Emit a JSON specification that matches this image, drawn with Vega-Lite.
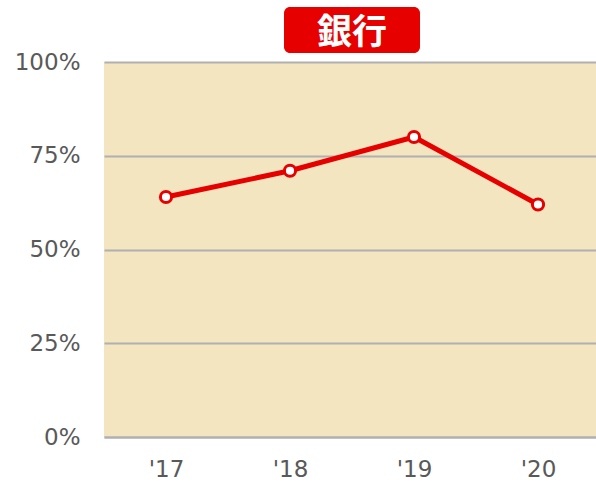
{
  "$schema": "https://vega.github.io/schema/vega-lite/v6.json",
  "width": 496,
  "height": 375,
  "autosize": "none",
  "padding": {"left": 104, "top": 62, "right": 0, "bottom": 46},
  "background": "white",
  "title": {"text": "銀行", "font": "Noto Sans CJK JP", "fontSize": 35, "fontWeight": "bold", "color": "white", "offset": 13, "dy": 57, "anchor": "middle", "zindex": 2},
  "config": {
    "view": {"fill": "#F3E5C0", "stroke": null},
    "axis": {"labelFont": "DejaVu Sans", "labelFontSize": 23, "labelColor": "#595959", "ticks": false, "title": null},
    "axisX": {"labelAngle": 0, "labelAlign": "center", "labelPadding": 21, "domainColor": "#B0B0B0", "domainWidth": 2, "grid": false},
    "axisY": {"labelPadding": 24, "domain": false, "grid": true, "gridColor": "#B0B0B0", "gridWidth": 2, "gridOpacity": 1}
  },
  "data": {"values": [
    {"year": "'17", "value": 0.64},
    {"year": "'18", "value": 0.71},
    {"year": "'19", "value": 0.80},
    {"year": "'20", "value": 0.62}
  ]},
  "layer": [
    {
      "data": {"values": [{"label": "銀行"}]},
      "mark": {"type": "rect", "color": "#E60000", "cornerRadius": 6, "xOffset": -6, "x2Offset": 6},
      "encoding": {
        "x": {"datum": "'18", "type": "ordinal"},
        "x2": {"datum": "'19"},
        "y": {"datum": 1.024, "type": "quantitative"},
        "y2": {"datum": 1.147}
      }
    },
    {
      "mark": {"type": "line", "color": "#E60000", "strokeWidth": 5},
      "encoding": {
        "x": {"field": "year", "type": "ordinal", "scale": {"type": "point", "padding": 0.5}},
        "y": {"field": "value", "type": "quantitative", "scale": {"domain": [0, 1]},
              "axis": {"values": [0, 0.25, 0.5, 0.75, 1], "format": ".0%"}}
      }
    },
    {
      "mark": {"type": "point", "filled": true, "fill": "white", "stroke": "#E60000", "strokeWidth": 3, "size": 125, "opacity": 1},
      "encoding": {
        "x": {"field": "year", "type": "ordinal"},
        "y": {"field": "value", "type": "quantitative"}
      }
    }
  ]
}
